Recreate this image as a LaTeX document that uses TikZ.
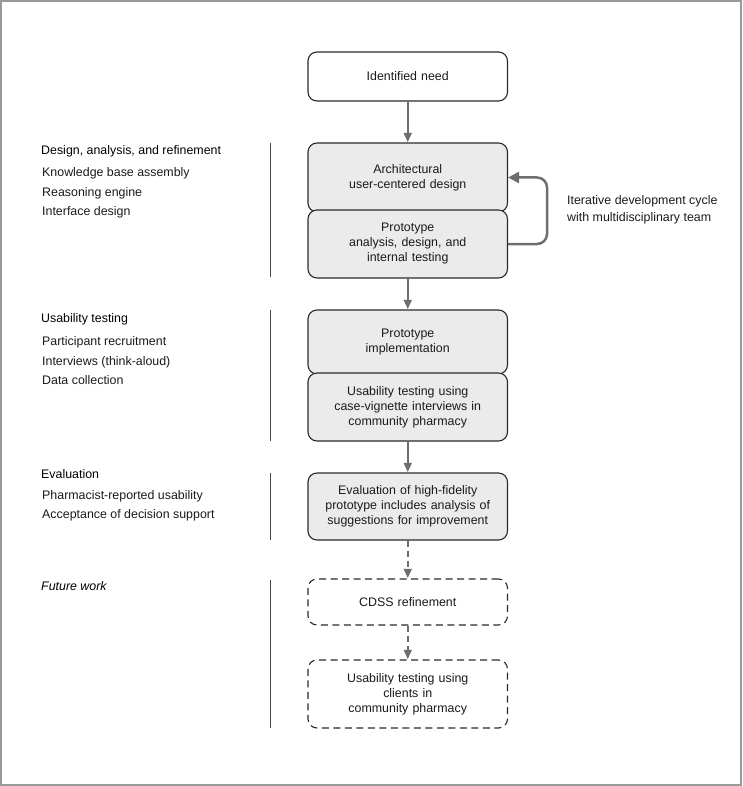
\documentclass[tikz,border=0pt]{standalone}
\usepackage{fontspec}
\setmainfont{Liberation Sans}
\usetikzlibrary{arrows.meta}
\definecolor{boxfill}{HTML}{EBEBEB}
\definecolor{boxline}{HTML}{2A2A2A}
\definecolor{arrowgray}{HTML}{6E6E6E}
\definecolor{framegray}{HTML}{9A9A9A}
\definecolor{textc}{HTML}{1A1A1A}
\definecolor{sidegray}{HTML}{444444}
\newcommand{\boxfont}{\fontsize{12.4}{15}\selectfont}
\newcommand{\sidefont}{\fontsize{12.4}{15}\selectfont}
\begin{document}
\begin{tikzpicture}[x=1pt,y=-1pt,
  box/.style={draw=boxline,line width=1.1pt,rounded corners=9pt,minimum width=199.5pt,
    text width=190pt,inner sep=0pt,align=center,font=\boxfont,text=textc,fill=boxfill},
  whitebox/.style={box,fill=white},
  dashbox/.style={box,fill=white,dash pattern=on 7pt off 4.5pt},
  arr/.style={draw=arrowgray,line width=1.5pt,-{Triangle[length=9pt,width=8pt]},shorten >=0.5pt},
  dasharr/.style={arr,dash pattern=on 6pt off 4pt},
  fb/.style={draw=arrowgray,line width=2.5pt,rounded corners=10pt,-{Triangle[length=11pt,width=11pt]}},
  side/.style={anchor=base west,font=\sidefont,text=textc,inner sep=0pt},
  sidehead/.style={side,text=black},
  sideline/.style={draw=sidegray,line width=1pt}
]
\useasboundingbox (0,0) rectangle (742,786);
\draw[draw=framegray,line width=1.6pt] (1,1) rectangle (741,785);

% flow boxes
\node[whitebox,minimum height=49pt] (need) at (407.75,76.5) {Identified need};
\node[box,minimum height=69pt] (arch) at (407.75,177.5) {Architectural\\user-centered design};
\node[box,minimum height=68pt] (proto) at (407.75,244) {Prototype\\analysis, design, and\\internal testing};
\node[box,minimum height=64pt] (impl) at (407.75,342) {Prototype\\implementation};
\node[box,minimum height=68pt] (usab) at (407.75,407) {Usability testing using\\case-vignette interviews in\\community pharmacy};
\node[box,minimum height=67pt] (eval) at (407.75,506.5) {Evaluation of high-fidelity\\prototype includes analysis of\\suggestions for improvement};
\node[dashbox,minimum height=46pt] (cdss) at (407.75,602) {CDSS refinement};
\node[dashbox,minimum height=68pt] (fut) at (407.75,694) {Usability testing using\\clients in\\community pharmacy};

% connectors
\draw[arr] (need) -- (arch);
\draw[arr] (proto) -- (impl);
\draw[arr] (usab) -- (eval);
\draw[dasharr] (eval) -- (cdss);
\draw[dasharr] (cdss) -- (fut);
\draw[fb] (proto.east) -- ++(39,0) |- (arch.east);
\node[anchor=west,align=left,font=\fontsize{12.4}{16.7}\selectfont,text=textc,inner sep=0pt] (cyc) at (567,209.5)
  {Iterative development cycle\\with multidisciplinary team};

% side labels
\node[sidehead] (h1) at (41,155) {Design, analysis, and refinement};
\node[side] (h1a) at (42,176.5) {Knowledge base assembly};
\node[side] (h1b) at (42,196.5) {Reasoning engine};
\node[side] (h1c) at (42,216) {Interface design};
\draw[sideline] (270.7,143) -- (270.7,277);

\node[sidehead] (h2) at (41,322) {Usability testing};
\node[side] (h2a) at (42,345) {Participant recruitment};
\node[side] (h2b) at (42,365.5) {Interviews (think-aloud)};
\node[side] (h2c) at (42,384.5) {Data collection};
\draw[sideline] (270.7,310) -- (270.7,441);

\node[sidehead] (h3) at (41,478) {Evaluation};
\node[side] (h3a) at (42,499) {Pharmacist-reported usability};
\node[side] (h3b) at (42,518.5) {Acceptance of decision support};
\draw[sideline] (270.7,473) -- (270.7,540);

\node[sidehead,font=\sidefont\itshape] (h4) at (41,590.5) {Future work};
\draw[sideline] (270.7,580) -- (270.7,728);
\end{tikzpicture}
\end{document}
